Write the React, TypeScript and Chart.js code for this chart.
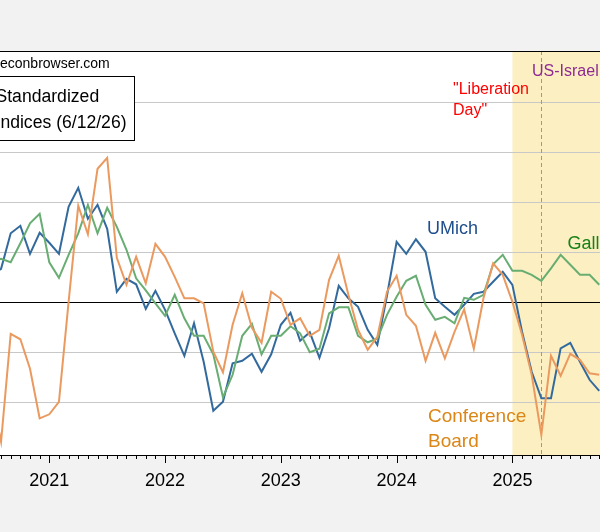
import React, { useEffect, useRef } from "react";
import { Chart, registerables } from "chart.js";

Chart.register(...registerables);

const FONT = "'Liberation Sans', Arial, Helvetica, sans-serif";

const monthLabels = [
  "2020-07", "2020-08", "2020-09", "2020-10", "2020-11", "2020-12",
  "2021-01", "2021-02", "2021-03", "2021-04", "2021-05", "2021-06",
  "2021-07", "2021-08", "2021-09", "2021-10", "2021-11", "2021-12",
  "2022-01", "2022-02", "2022-03", "2022-04", "2022-05", "2022-06",
  "2022-07", "2022-08", "2022-09", "2022-10", "2022-11", "2022-12",
  "2023-01", "2023-02", "2023-03", "2023-04", "2023-05", "2023-06",
  "2023-07", "2023-08", "2023-09", "2023-10", "2023-11", "2023-12",
  "2024-01", "2024-02", "2024-03", "2024-04", "2024-05", "2024-06",
  "2024-07", "2024-08", "2024-09", "2024-10", "2024-11", "2024-12",
  "2025-01", "2025-02", "2025-03", "2025-04", "2025-05", "2025-06",
  "2025-07", "2025-08", "2025-09", "2025-10",
];

const umich = [
  0.55, 0.67, 1.38, 1.53, 0.97, 1.39, 1.19,
  0.97, 1.91, 2.29, 1.67, 1.95, 1.47, 0.21, 0.47, 0.36, -0.13, 0.23,
  -0.15, -0.62, -1.07, -0.42, -1.19, -2.17, -1.99, -1.22, -1.17, -1.03, -1.39, -1.04,
  -0.45, -0.21, -0.77, -0.60, -1.11, -0.52, 0.33, 0.08, -0.09, -0.55, -0.85, 0.13,
  1.21, 0.97, 1.26, 1.01, 0.08, -0.09, -0.25, -0.05, 0.17, 0.21, 0.41, 0.61,
  0.35, -0.59, -1.39, -1.92, -1.92, -0.92, -0.81, -1.19, -1.55, -1.77,
];

const gallup = [
  0.80, 0.87, 0.80, 1.18, 1.58, 1.77, 0.80,
  0.49, 0.95, 1.38, 1.95, 1.38, 1.89, 1.51, 1.05, 0.48, 0.24, -0.02,
  -0.27, 0.15, -0.32, -0.67, -0.67, -1.04, -1.90, -1.45, -0.67, -0.43, -1.04, -0.67,
  -0.67, -0.48, -0.62, -1.00, -0.93, -0.22, -0.10, -0.10, -0.67, -0.80, -0.73, -0.25,
  0.11, 0.43, 0.53, -0.05, -0.35, -0.29, -0.42, 0.09, 0.05, 0.15, 0.76, 0.95,
  0.63, 0.63, 0.55, 0.43, 0.68, 0.95, 0.75, 0.55, 0.55, 0.35,
];

const confBoard = [
  -1.82, -2.79, -0.63, -0.74, -1.33, -2.32, -2.24,
  -1.99, 0.01, 1.93, 1.36, 2.67, 2.89, 0.89, 0.35, 0.91, 0.38, 1.17,
  0.91, 0.51, 0.08, 0.08, -0.02, -0.99, -1.40, -0.45, 0.18, -0.51, -0.81, 0.21,
  0.07, -0.45, -0.32, -0.67, -0.55, 0.45, 0.93, 0.15, -0.55, -0.95, -0.69, 0.21,
  0.53, -0.25, -0.47, -1.17, -0.61, -1.12, -0.59, -0.14, -0.93, 0.08, 0.78, 0.55,
  0.01, -0.65, -1.45, -2.65, -1.07, -1.47, -1.03, -1.15, -1.42, -1.45,
];

const yearTicks = [2021, 2022, 2023, 2024, 2025];
const gridValues = [-2, -1, 0, 1, 2, 3, 4];
const shadeStart = "2025-01";
const eventMonth = "2025-04";

function monthIndex(s: string): number {
  const [y, m] = s.split("-").map(Number);
  return (y - 2020) * 12 + (m - 1);
}

function series(values: number[]) {
  return values.map((v, i) => ({ x: monthIndex(monthLabels[i]), y: v }));
}

const decor = {
  id: "decor",
  beforeDraw(chart: any) {
    const { ctx, chartArea: a, width, height } = chart;
    const xs = chart.scales.x;
    ctx.save();
    ctx.fillStyle = "#f2f2f2";
    ctx.fillRect(0, 0, width, height);
    ctx.fillStyle = "#ffffff";
    ctx.fillRect(a.left, a.top, a.right - a.left, a.bottom - a.top);
    const sx = xs.getPixelForValue(monthIndex(shadeStart));
    ctx.fillStyle = "#fcf0c3";
    ctx.fillRect(sx, a.top, a.right - sx, a.bottom - a.top);
    ctx.restore();
  },
  beforeDatasetsDraw(chart: any) {
    const { ctx, chartArea: a } = chart;
    const ex = Math.round(chart.scales.x.getPixelForValue(monthIndex(eventMonth))) + 0.5;
    ctx.save();
    ctx.strokeStyle = "#f0861e";
    ctx.lineWidth = 1;
    ctx.setLineDash([4, 3]);
    ctx.beginPath();
    ctx.moveTo(ex, a.top);
    ctx.lineTo(ex, a.bottom);
    ctx.stroke();
    ctx.restore();
  },
  afterDatasetsDraw(chart: any) {
    const { ctx, chartArea: a } = chart;
    const xs = chart.scales.x;
    ctx.save();
    // top border
    ctx.strokeStyle = "#000";
    ctx.lineWidth = 1;
    ctx.beginPath();
    ctx.moveTo(0, Math.round(a.top) + 0.5);
    ctx.lineTo(chart.width, Math.round(a.top) + 0.5);
    ctx.stroke();
    // month tick marks
    for (let m = Math.ceil(xs.min); m <= Math.floor(xs.max); m++) {
      const px = Math.round(xs.getPixelForValue(m)) + 0.5;
      const len = m % 12 === 0 ? 8 : 4;
      ctx.beginPath();
      ctx.moveTo(px, a.bottom);
      ctx.lineTo(px, a.bottom + len);
      ctx.stroke();
    }
    // site label
    ctx.fillStyle = "#000";
    ctx.textBaseline = "alphabetic";
    ctx.textAlign = "left";
    ctx.font = `14px ${FONT}`;
    ctx.fillText("econbrowser.com", 0, 68);
    // title box
    ctx.fillStyle = "#fff";
    ctx.fillRect(-10, 76.5, 144.5, 64);
    ctx.strokeStyle = "#000";
    ctx.strokeRect(-10, 76.5, 144.5, 64);
    ctx.fillStyle = "#000";
    ctx.font = `17.6px ${FONT}`;
    ctx.textAlign = "left";
    ctx.fillText("Standardized", -4.5, 102);
    ctx.fillText("Indices (6/12/26)", -4.5, 128);
    // event labels
    ctx.font = `16px ${FONT}`;
    ctx.fillStyle = "#ff0000";
    ctx.fillText("\"Liberation", 453, 94);
    ctx.fillText("Day\"", 453, 114.5);
    ctx.fillStyle = "#8e2a92";
    ctx.fillText("US-Israel", 532, 76);
    // series labels
    ctx.font = `18px ${FONT}`;
    ctx.fillStyle = "#1f4e8c";
    ctx.fillText("UMich", 427, 234);
    ctx.fillStyle = "#178017";
    ctx.fillText("Gallup", 567.5, 249);
    ctx.font = `19px ${FONT}`;
    ctx.fillStyle = "#db8616";
    ctx.fillText("Conference", 428, 421.5);
    ctx.fillText("Board", 428, 446.5);
    ctx.restore();
  },
};

export default function App() {
  const ref = useRef<HTMLCanvasElement | null>(null);

  useEffect(() => {
    if (!ref.current) return;
    const chart = new Chart(ref.current, {
      type: "line",
      data: {
        datasets: [
          {
            label: "Conference Board",
            data: series(confBoard),
            borderColor: "#eb9a5f",
            borderWidth: 2,
            pointRadius: 0,
            tension: 0,
          },
          {
            label: "Gallup",
            data: series(gallup),
            borderColor: "#68ad72",
            borderWidth: 2,
            pointRadius: 0,
            tension: 0,
          },
          {
            label: "UMich",
            data: series(umich),
            borderColor: "#336a9e",
            borderWidth: 2,
            pointRadius: 0,
            tension: 0,
          },
        ],
      },
      options: {
        animation: false,
        responsive: false,
        maintainAspectRatio: false,
        layout: { padding: { top: 51, left: 0, right: 0, bottom: 0 } },
        plugins: { legend: { display: false }, tooltip: { enabled: false } },
        scales: {
          x: {
            type: "linear",
            min: 6.89,
            max: 69.08,
            afterBuildTicks: (s: any) => {
              s.ticks = yearTicks.map((y) => ({ value: (y - 2020) * 12 }));
            },
            afterFit: (s: any) => {
              s.height = 77;
            },
            grid: { display: true, drawOnChartArea: false, drawTicks: false },
            border: { display: true, color: "#000", width: 1 },
            ticks: {
              padding: 15,
              color: "#000",
              font: { size: 18, family: FONT },
              maxRotation: 0,
              autoSkip: false,
              callback: (v: any) => String(2020 + Math.round(Number(v) / 12)),
            },
          },
          y: {
            type: "linear",
            min: -3.054,
            max: 5.026,
            afterBuildTicks: (s: any) => {
              s.ticks = gridValues.map((v) => ({ value: v }));
            },
            afterFit: (s: any) => {
              s.width = 0;
            },
            ticks: { display: false },
            border: { display: false },
            grid: {
              drawTicks: false,
              lineWidth: 1,
              color: (c: any) => (c.tick && c.tick.value === 0 ? "#000000" : "#c8c8c8"),
            },
          },
        },
      },
      plugins: [decor],
    });
    return () => chart.destroy();
  }, []);

  return (
    <div style={{ position: "fixed", left: 0, top: 0, width: 600, height: 532 }}>
      <canvas ref={ref} width={600} height={532} />
    </div>
  );
}
